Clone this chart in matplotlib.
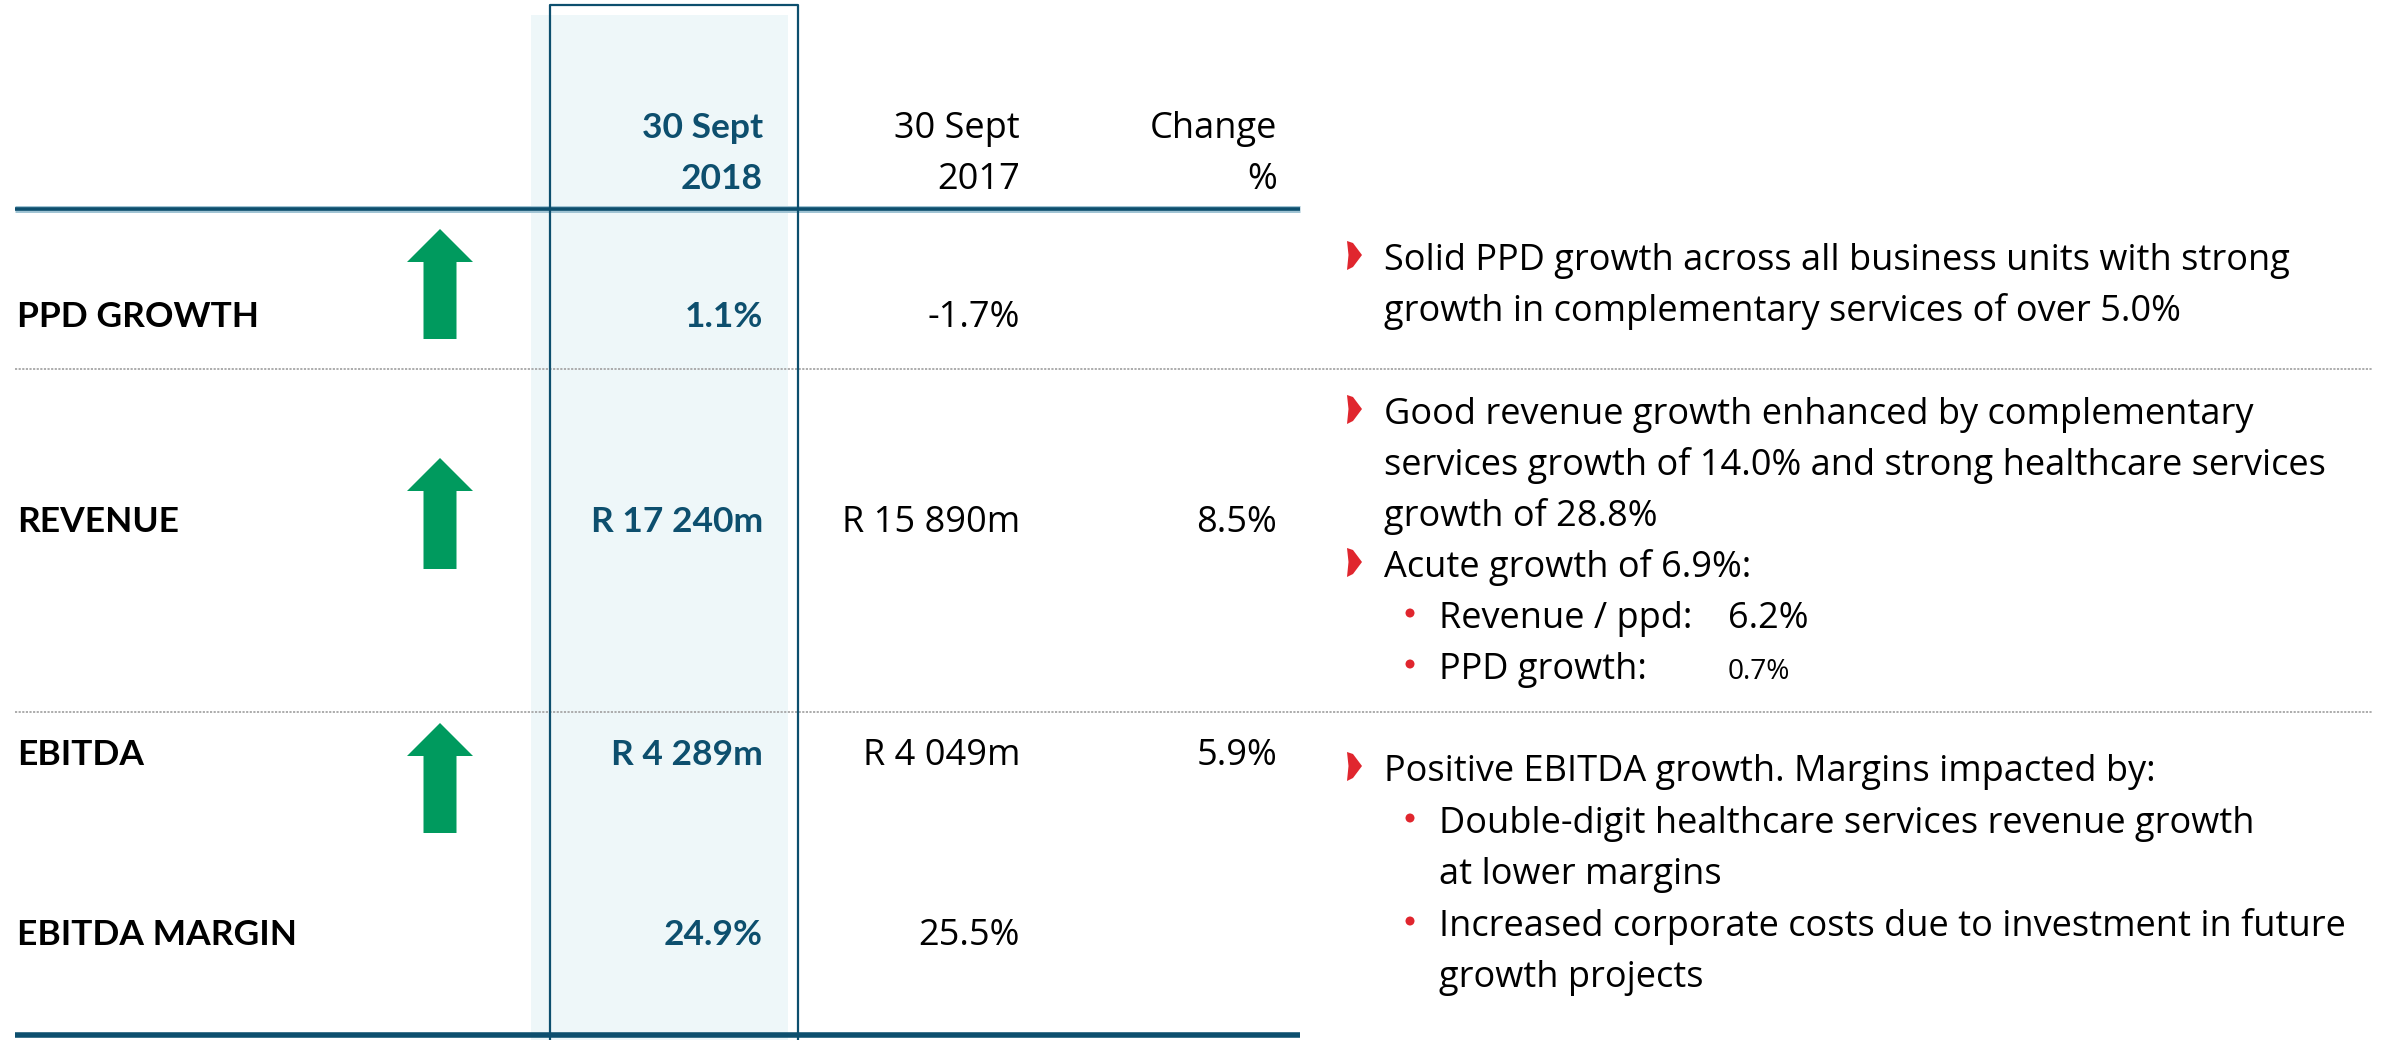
import matplotlib
matplotlib.use("Agg")
import matplotlib.pyplot as plt
from matplotlib.patches import Rectangle, Polygon, FancyArrow, Circle

# ---- data ----
row_labels = ["PPD GROWTH", "REVENUE", "EBITDA", "EBITDA MARGIN"]
values_2018 = ["1.1%", "R 17 240m", "R 4 289m", "24.9%"]
values_2017 = ["-1.7%", "R 15 890m", "R 4 049m", "25.5%"]
change_pct = ["", "8.5%", "5.9%", ""]
arrow_up = [True, True, True, False]
col_headers = [("30 Sept", "2018"), ("30 Sept", "2017"), ("Change", "%")]

comments = [
    # (kind, text, baseline)
    ("arrow", "Solid PPD growth across all business units with strong", 270),
    ("cont", "growth in complementary services of over 5.0%", 321),
    ("arrow", "Good revenue growth enhanced by complementary", 424),
    ("cont", "services growth of 14.0% and strong healthcare services", 475),
    ("cont", "growth of 28.8%", 526),
    ("arrow", "Acute growth of 6.9%:", 577),
    ("dot", "Revenue / ppd:", 628),
    ("dot", "PPD growth:", 679),
    ("arrow", "Positive EBITDA growth. Margins impacted by:", 781),
    ("dot", "Double-digit healthcare services revenue growth", 833),
    ("subcont", "at lower margins", 884),
    ("dot", "Increased corporate costs due to investment in future", 936),
    ("subcont", "growth projects", 987),
]
acute_values = ["6.2%", "0.7%"]

# ---- style ----
TEAL = "#0d4f6e"
FILL = "#eef7f9"
GREEN = "#009a5e"
RED = "#e0262e"
GREY = "#a6a6a6"
FONT_R = ["Open Sans", "DejaVu Sans"]
FONT_B = ["Lato", "DejaVu Sans"]
FS_R = 26
FS_B = 25.5

W, H = 2392, 1040
fig = plt.figure(figsize=(W / 100, H / 100), dpi=100)
ax = fig.add_axes([0, 0, 1, 1])
ax.set_xlim(0, W)
ax.set_ylim(H, 0)
ax.axis("off")

# highlighted column
ax.add_patch(Rectangle((531, 15), 257, H, facecolor=FILL, edgecolor="none", zorder=0))
ax.plot([550, 550, 798, 798], [H + 5, 5, 5, H + 5], color=TEAL, lw=1.6, zorder=3)

# horizontal rules
ax.plot([15, 1300], [209, 209], color="#9fc3d3", lw=5.0, zorder=2, solid_capstyle="butt")
ax.plot([15, 1300], [209, 209], color=TEAL, lw=2.6, zorder=2, solid_capstyle="butt")
ax.plot([15, 1300], [1035, 1035], color=TEAL, lw=4.0, zorder=2, solid_capstyle="butt")
for yy in (369, 712):
    ax.plot([15, 2372], [yy, yy], color=GREY, lw=1.3, ls=(0, (1.2, 0.8)), zorder=2)

# headers
col_right = [763, 1020, 1277]
for i, (h1, h2) in enumerate(col_headers):
    if i == 0:
        kw = dict(fontsize=FS_B, family=FONT_B, color=TEAL, fontweight="bold")
    else:
        kw = dict(fontsize=FS_R, family=FONT_R, color="black")
    ax.text(col_right[i], 138, h1, ha="right", va="baseline", **kw)
    ax.text(col_right[i], 189, h2, ha="right", va="baseline", **kw)

# rows
row_base = [327, 532, 765, 945]
arrow_spans = [(229, 339), (458, 569), (723, 833)]
for i, lab in enumerate(row_labels):
    yb = row_base[i]
    ax.text(17, yb, lab, fontsize=FS_B, family=FONT_B, fontweight="bold", ha="left", va="baseline")
    ax.text(col_right[0], yb, values_2018[i], fontsize=FS_B, family=FONT_B, fontweight="bold",
            color=TEAL, ha="right", va="baseline")
    ax.text(col_right[1], yb, values_2017[i], fontsize=FS_R, family=FONT_R, ha="right", va="baseline")
    if change_pct[i]:
        ax.text(col_right[2], yb, change_pct[i], fontsize=FS_R, family=FONT_R, ha="right", va="baseline")
    if arrow_up[i]:
        top, bot = arrow_spans[i]
        ax.add_patch(FancyArrow(440, bot, 0, -(bot - top), width=33, head_width=66,
                                head_length=33, length_includes_head=True,
                                facecolor=GREEN, edgecolor="none", zorder=4))

# commentary
acute_i = 0
for kind, txt, yb in comments:
    x = 1384 if kind in ("arrow", "cont") else 1439
    if kind == "arrow":
        x0, y0 = 1347, yb - 30
        ax.add_patch(Polygon([(x0, y0 + 1), (x0 + 6, y0 + 3), (x0 + 15, y0 + 15),
                              (x0 + 6, y0 + 27), (x0, y0 + 30), (x0 + 1.5, y0 + 15)],
                             closed=True, facecolor=RED, edgecolor="none"))
    if kind == "dot":
        ax.add_patch(Circle((1410, yb - 15), 4.5, facecolor=RED, edgecolor="none"))
    ax.text(x, yb, txt, fontsize=FS_R, family=FONT_R, ha="left", va="baseline")
    if txt in ("Revenue / ppd:", "PPD growth:"):
        small = txt == "PPD growth:"
        ax.text(1728, yb, acute_values[acute_i], fontsize=FS_R * (0.78 if small else 1.0),
                family=FONT_R, ha="left", va="baseline")
        acute_i += 1

fig.savefig("out.png", dpi=100)
